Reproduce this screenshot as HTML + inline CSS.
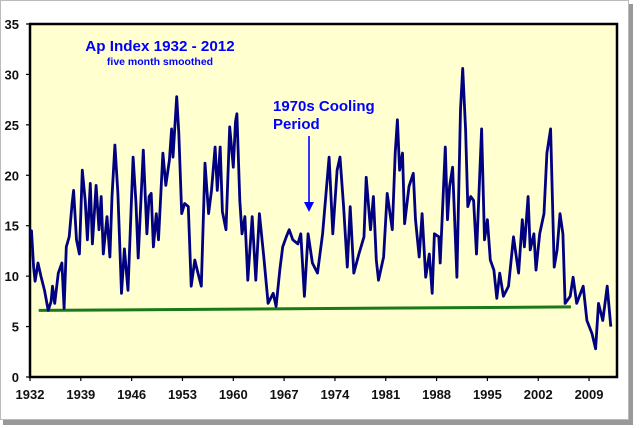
<!DOCTYPE html>
<html><head><meta charset="utf-8"><style>
body{margin:0;background:#fff;}
svg{display:block;font-family:"Liberation Sans",Arial,sans-serif;}
</style></head><body>
<svg id="chart" width="644" height="428">
  <rect x="3" y="4" width="630" height="421" fill="#999"/>
  <rect x="0.5" y="0.5" width="628" height="419" fill="#fff" stroke="#bbb" stroke-width="1"/>
  <rect x="30" y="24" width="587" height="353" fill="#ffffd0" stroke="#000" stroke-width="2.5"/>
  <g id="yaxis"></g>
  <g id="xaxis"></g>
  <g id="marks"></g>
  <text x="160" y="51" text-anchor="middle" fill="#0000ff" font-weight="bold" font-size="15.2">Ap Index 1932 - 2012</text>
  <text x="160" y="65" text-anchor="middle" fill="#0000ff" font-weight="bold" font-size="10.5">five month smoothed</text>
  <text x="273" y="111" fill="#0000ff" font-weight="bold" font-size="15">1970s Cooling</text>
  <text x="273" y="129" fill="#0000ff" font-weight="bold" font-size="15">Period</text>
  <line x1="309" y1="136" x2="309" y2="204" stroke="#0000ff" stroke-width="1.6"/>
  <polygon points="304,202 314,202 309,212" fill="#0000ff"/>
</svg>
<script>
const years=[1932.0,1932.2,1932.5,1932.7,1933.1,1933.5,1934.0,1934.5,1934.9,1935.1,1935.4,1935.9,1936.4,1936.7,1937.0,1937.4,1937.8,1938.0,1938.4,1938.8,1939.2,1939.6,1939.9,1940.3,1940.6,1941.1,1941.5,1941.8,1942.1,1942.6,1943.0,1943.3,1943.7,1944.1,1944.6,1945.0,1945.5,1946.2,1946.6,1946.9,1947.6,1948.1,1948.4,1948.7,1949.0,1949.4,1949.7,1950.3,1950.7,1951.2,1951.5,1951.7,1952.2,1952.5,1952.9,1953.3,1953.8,1954.2,1954.7,1955.1,1955.6,1956.1,1956.6,1957.0,1957.5,1957.8,1958.2,1958.5,1959.0,1959.5,1960.0,1960.3,1960.5,1960.9,1961.2,1961.6,1962.0,1962.6,1963.1,1963.6,1964.2,1964.8,1965.5,1965.9,1966.4,1966.8,1967.3,1967.7,1968.2,1968.9,1969.3,1969.8,1970.3,1970.9,1971.6,1972.3,1973.2,1973.7,1974.3,1974.7,1975.2,1975.7,1976.1,1976.6,1977.3,1978.0,1978.3,1978.9,1979.3,1979.7,1980.0,1980.7,1981.2,1981.9,1982.3,1982.6,1982.9,1983.3,1983.6,1984.2,1984.8,1985.1,1985.6,1986.0,1986.5,1987.0,1987.4,1987.7,1988.3,1988.5,1989.2,1989.5,1989.8,1990.2,1990.8,1991.3,1991.6,1992.0,1992.3,1992.7,1993.1,1993.5,1994.2,1994.6,1995.0,1995.4,1995.9,1996.3,1996.7,1997.2,1997.9,1998.6,1999.3,1999.8,2000.1,2000.6,2000.9,2001.4,2001.7,2002.2,2002.8,2003.2,2003.7,2004.2,2004.6,2005.0,2005.4,2005.7,2006.4,2006.8,2007.3,2008.2,2008.7,2009.4,2009.9,2010.3,2010.9,2011.5,2012.0];
const apValues=[14.2,14.5,10.9,9.5,11.3,10.0,8.6,6.6,7.5,9.0,7.3,10.3,11.3,6.8,12.9,13.9,17.2,18.5,13.6,12.2,20.5,17.5,13.6,19.2,13.2,19.0,14.6,17.9,12.2,15.9,11.9,17.9,23.0,18.2,8.3,12.7,8.6,21.8,17.2,11.8,22.5,14.2,17.9,18.2,12.9,16.2,13.6,22.2,19.0,21.5,24.6,21.8,27.8,24.2,16.2,17.2,16.9,9.0,11.6,10.4,9.0,21.2,16.2,18.5,22.8,18.5,22.8,16.4,14.6,24.8,20.8,25.3,26.1,17.5,14.2,15.9,9.6,15.9,9.6,16.2,11.9,7.3,8.3,7.0,10.6,12.9,13.9,14.6,13.6,13.2,14.2,8.0,14.2,11.3,10.3,14.2,21.8,14.2,20.5,21.8,16.9,10.9,16.9,10.3,12.2,13.9,19.8,14.6,17.9,11.6,9.6,11.9,18.2,14.6,22.2,25.5,20.5,22.2,15.2,18.9,20.2,15.6,11.9,16.2,9.9,12.2,8.3,14.2,13.9,11.3,22.8,15.6,18.9,20.8,9.9,26.5,30.6,24.5,16.9,17.9,17.5,12.2,24.6,13.6,15.6,11.6,10.6,7.8,10.3,8.0,9.0,13.9,10.3,15.6,12.9,17.9,12.6,14.2,10.6,14.2,16.2,22.2,24.6,10.9,12.6,16.2,14.2,7.3,8.0,9.9,7.3,9.0,5.6,4.3,2.8,7.3,5.6,9.0,5.0];
const baselineYears=[1933.2,2006.5];
const baselineValues=[6.6,6.95];
const yTicks=[0,5,10,15,20,25,30,35];
const xTicks=[1932,1939,1946,1953,1960,1967,1974,1981,1988,1995,2002,2009];

const NS="http://www.w3.org/2000/svg";
const X0=30,X1=617,Y0=377,Y1=24,YMIN=1932,YMAX=2012.85,VMAX=35;
function xs(t){return X0+(t-YMIN)/(YMAX-YMIN)*(X1-X0);}
function ys(v){return Y0-v/VMAX*(Y0-Y1);}
function mk(tag,attrs,parent){const e=document.createElementNS(NS,tag);for(const k in attrs)e.setAttribute(k,attrs[k]);parent.appendChild(e);return e;}
const ya=document.getElementById('yaxis'),xa=document.getElementById('xaxis'),mg=document.getElementById('marks');
yTicks.forEach(v=>{
  const l=mk('line',{x1:26,x2:30,y1:ys(v),y2:ys(v),stroke:'#000','stroke-width':1.2},ya);
  
  
  const t=mk('text',{x:19,y:ys(v)+5,'text-anchor':'end','font-size':13,'font-weight':'bold',fill:'#111'},ya);
  t.textContent=v;
  
  
});
xTicks.forEach(yr=>{
  const l=mk('line',{x1:xs(yr),x2:xs(yr),y1:377,y2:381,stroke:'#000','stroke-width':1.2},xa);
  
  
  const t=mk('text',{x:xs(yr),y:399,'text-anchor':'middle','font-size':13,'font-weight':'bold',fill:'#111'},xa);
  t.textContent=yr;
  
  
});
const bl=mk('line',{x1:xs(baselineYears[0]),y1:ys(baselineValues[0]),x2:xs(baselineYears[1]),y2:ys(baselineValues[1]),stroke:'#1a7a1a','stroke-width':3},mg);


const d=years.map((t,i)=>(i?'L':'M')+xs(t).toFixed(1)+','+ys(apValues[i]).toFixed(1)).join('');
const p=mk('path',{d:d,fill:'none',stroke:'#000080','stroke-width':2.8,'stroke-linejoin':'round'},mg);


</script>
</body></html>
